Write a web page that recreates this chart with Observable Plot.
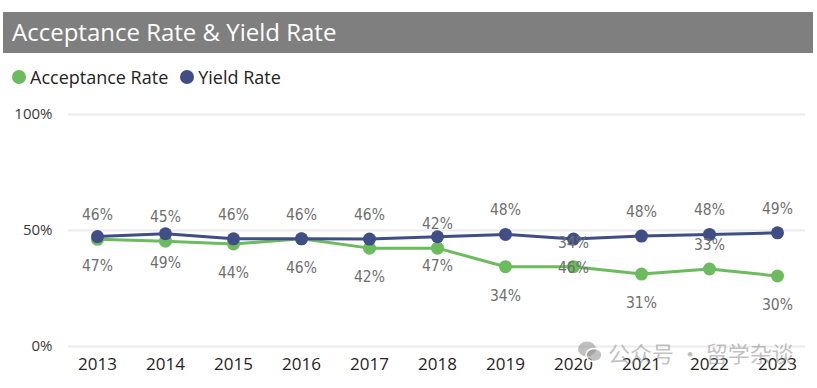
<!DOCTYPE html>
<html><head><meta charset="utf-8">
<script src="https://cdn.jsdelivr.net/npm/d3@7"></script>
<script src="https://cdn.jsdelivr.net/npm/@observablehq/plot@0.6"></script>
<style>
body{margin:0;background:#fff;width:817px;height:388px;overflow:hidden;position:relative;font-family:"Open Sans",sans-serif}
#title{position:absolute;left:3px;top:12px;width:810px;height:41px;background:#7f7f7f;color:#fff;font-size:24px;line-height:40px;padding-left:9px;box-sizing:border-box;white-space:nowrap}
#legend{position:absolute;left:12px;top:65px;font-size:18px;color:#252423;display:flex;align-items:center;white-space:nowrap;line-height:24px}
.item{display:flex;align-items:center;margin-right:12px}
.sw{display:inline-block;width:14px;height:14px;border-radius:50%;margin-right:4px}
#chart{position:absolute;left:0;top:95px}
#wm{position:absolute;left:577px;top:336px;display:flex;align-items:center;color:rgba(140,140,140,0.55);font-family:"Noto Sans CJK SC",sans-serif;font-size:22px;white-space:nowrap;pointer-events:none}
</style></head>
<body>
<div id="title">Acceptance Rate &amp; Yield Rate</div>
<div id="legend"></div>
<div id="chart"></div>
<div id="wm"><svg width="26" height="26" viewBox="0 0 26 26" style="margin-right:5px"><ellipse cx="10" cy="10" rx="9" ry="7.5" fill="rgba(140,140,140,0.55)"/><ellipse cx="17" cy="16" rx="8" ry="6.5" fill="rgba(140,140,140,0.55)" stroke="#fff" stroke-width="1.5"/></svg><span>公众号 · 留学杂谈</span></div>
<script>
const years = [2013, 2014, 2015, 2016, 2017, 2018, 2019, 2020, 2021, 2022, 2023];
const acceptanceRate = [46.2, 45.4, 44.2, 46.4, 42.4, 42.4, 34.4, 34.4, 31.2, 33.4, 30.4];
const yieldRate = [47.4, 48.6, 46.4, 46.4, 46.3, 47.3, 48.3, 46.3, 47.6, 48.3, 49.0];
const seriesNames = ["Acceptance Rate", "Yield Rate"];
const seriesColors = ["#6cbb5e", "#404e86"];
const yTicks = [0, 50, 100];
// label placement as in the original: Acceptance labels above in these years, Yield labels below in these years
const acceptanceLabelAboveYears = [2013, 2014, 2018, 2020, 2022];
const yieldLabelBelowYears = [2013, 2014, 2018, 2020];

const legend = document.getElementById("legend");
seriesNames.forEach((n, i) => {
  const it = document.createElement("span");
  it.className = "item";
  it.innerHTML = `<span class="sw" style="background:${seriesColors[i]}"></span>${n}`;
  legend.appendChild(it);
});

const rows = years.flatMap((year, i) => [
  {year, series: seriesNames[0], value: acceptanceRate[i], above: acceptanceLabelAboveYears.includes(year)},
  {year, series: seriesNames[1], value: yieldRate[i], above: !yieldLabelBelowYears.includes(year)}
]);
const col = s => seriesColors[seriesNames.indexOf(s)];
const labelStyle = {x: "year", y: "value", text: d => Math.round(d.value) + "%", fill: "#6f6f6f", fontSize: 15.5, fontFamily: "DejaVu Sans Condensed"};

const chart = Plot.plot({
  width: 817, height: 293,
  marginLeft: 68, marginRight: 12, marginTop: 19, marginBottom: 42,
  style: {fontFamily: "Open Sans", background: "transparent"},
  x: {type: "point", domain: years, padding: 0.4, label: null},
  y: {domain: [0, 100], label: null},
  marks: [
    Plot.ruleY(yTicks, {stroke: "#ebebeb", strokeWidth: 2}),
    Plot.axisY(yTicks, {tickSize: 0, tickPadding: 16, tickFormat: d => d + "%", fontSize: 15, fill: "#3b3a39", label: null}),
    Plot.axisX({tickSize: 0, tickPadding: 11, fontSize: 17, fill: "#252423", label: null, tickFormat: d => String(d)}),
    ...seriesNames.flatMap(s => [
      Plot.line(rows.filter(r => r.series === s), {x: "year", y: "value", stroke: col(s), strokeWidth: 3}),
      Plot.dot(rows.filter(r => r.series === s), {x: "year", y: "value", r: 6.5, fill: col(s), stroke: "none"})
    ]),
    Plot.text(rows.filter(r => r.above), {...labelStyle, dy: -24}),
    Plot.text(rows.filter(r => !r.above), {...labelStyle, dy: 29})
  ]
});
document.getElementById("chart").appendChild(chart);
</script>
</body></html>
